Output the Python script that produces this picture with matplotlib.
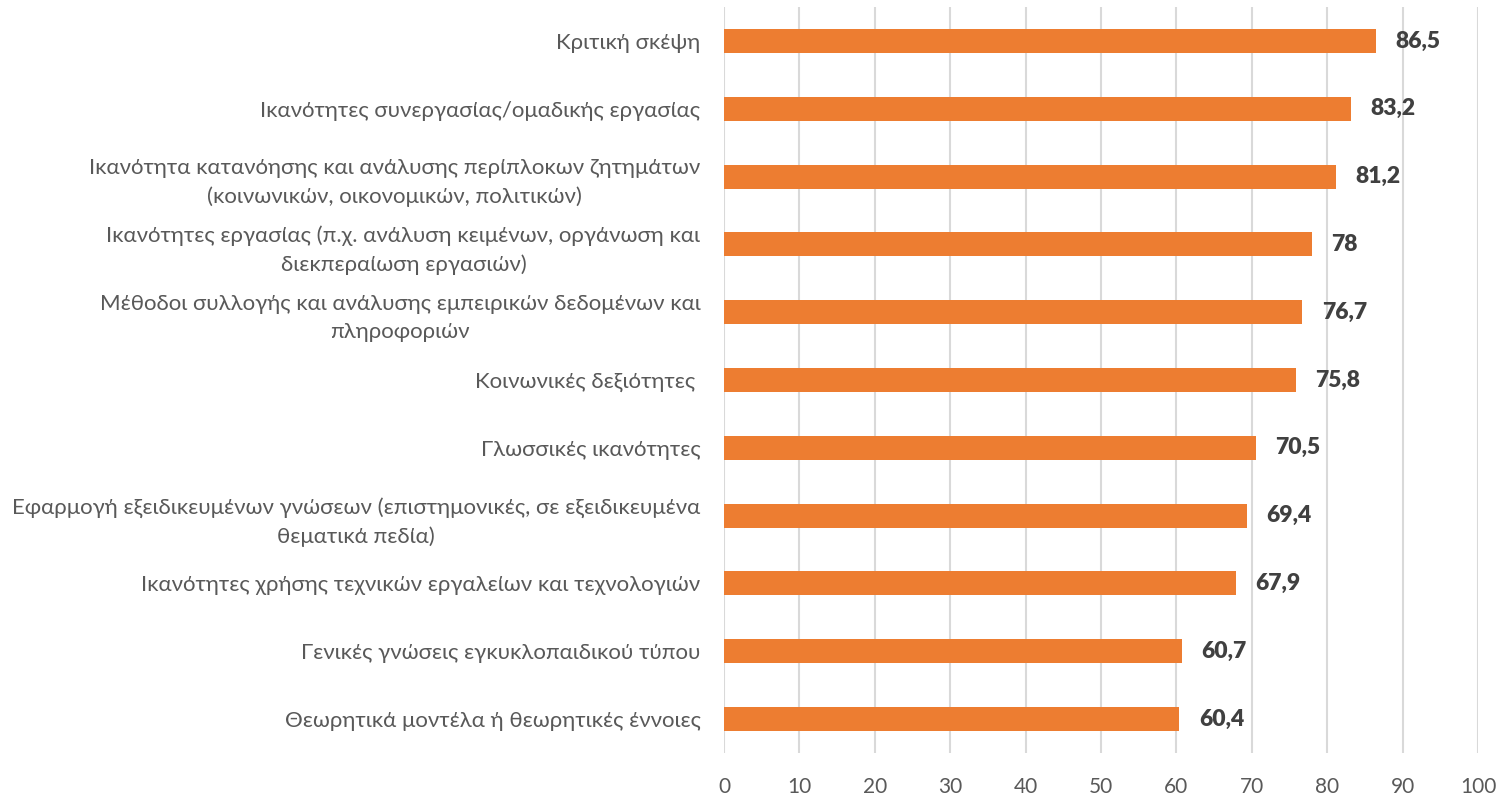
import matplotlib
matplotlib.use("Agg")
import matplotlib.pyplot as plt

categories = [
    "Κριτική σκέψη",
    "Ικανότητες συνεργασίας/ομαδικής εργασίας",
    "Ικανότητα κατανόησης και ανάλυσης περίπλοκων ζητημάτων\n(κοινωνικών, οικονομικών, πολιτικών)",
    "Ικανότητες εργασίας (π.χ. ανάλυση κειμένων, οργάνωση και\nδιεκπεραίωση εργασιών)",
    "Μέθοδοι συλλογής και ανάλυσης εμπειρικών δεδομένων και\nπληροφοριών",
    "Κοινωνικές δεξιότητες ",
    "Γλωσσικές ικανότητες",
    "Εφαρμογή εξειδικευμένων γνώσεων (επιστημονικές, σε εξειδικευμένα\nθεματικά πεδία)",
    "Ικανότητες χρήσης τεχνικών εργαλείων και τεχνολογιών",
    "Γενικές γνώσεις εγκυκλοπαιδικού τύπου",
    "Θεωρητικά μοντέλα ή θεωρητικές έννοιες",
]
values = [86.5, 83.2, 81.2, 78, 76.7, 75.8, 70.5, 69.4, 67.9, 60.7, 60.4]
value_labels = ["86,5", "83,2", "81,2", "78", "76,7", "75,8", "70,5", "69,4", "67,9", "60,7", "60,4"]
xticks = [0, 10, 20, 30, 40, 50, 60, 70, 80, 90, 100]

FONT = ["Lato", "DejaVu Sans"]
plt.rcParams["font.family"] = FONT

fig = plt.figure(figsize=(15.02, 7.94), dpi=100)
ax = fig.add_axes([724 / 1502, 1 - 753 / 794, (1478 - 724) / 1502, (753 - 7) / 794])

n = len(categories)
ypos = list(range(n))
ax.barh(ypos, values, height=0.355, color="#ED7D31", zorder=3)
ax.set_ylim(n - 0.5, -0.5)
ax.set_xlim(0, 100)
ax.set_xticks(xticks)
ax.set_xticklabels([str(t) for t in xticks], fontsize=15, color="#595959")
ax.set_yticks(ypos)
ax.set_yticklabels(categories, fontsize=16, color="#595959", multialignment="center",
                   linespacing=1.5)
ax.tick_params(axis="both", length=0)
ax.tick_params(axis="y", pad=17)
ax.tick_params(axis="x", pad=17)
ax.grid(axis="x", color="#D9D9D9", linewidth=1.5, zorder=0)
for s in ax.spines.values():
    s.set_visible(False)

for y, v, lab in zip(ypos, values, value_labels):
    ax.annotate(lab, xy=(v, y), xytext=(14, 0), textcoords="offset points",
                ha="left", va="center", fontsize=16.5, fontweight="heavy", color="#404040")

fig.savefig("out.png", dpi=100)
